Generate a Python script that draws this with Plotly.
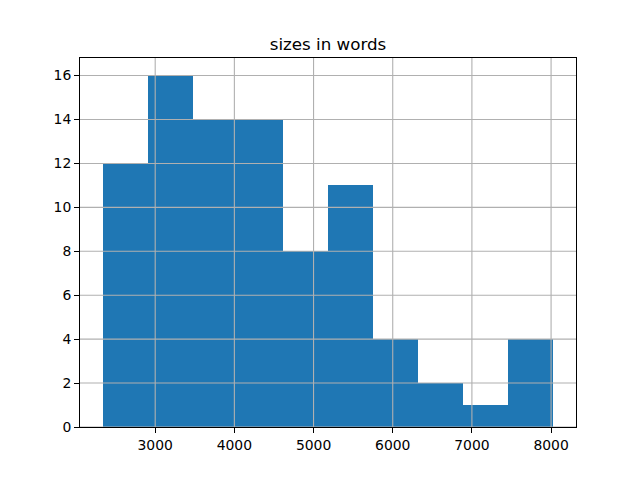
import plotly.graph_objects as go

# Histogram data
bin_start = 2335
bin_end = 8030
counts = [12, 16, 14, 14, 8, 11, 4, 2, 1, 4]
x_ticks = [3000, 4000, 5000, 6000, 7000, 8000]
y_ticks = [0, 2, 4, 6, 8, 10, 12, 14, 16]
title = "sizes in words"

n = len(counts)
w = (bin_end - bin_start) / n
edges = [bin_start + i * w for i in range(n + 1)]
centers = [(edges[i] + edges[i + 1]) / 2 for i in range(n)]

margin = 0.05 * (bin_end - bin_start)
xr = [bin_start - margin, bin_end + margin]
yr = [0, max(counts) * 1.05]

fig = go.Figure()
fig.add_trace(go.Bar(x=centers, y=counts, width=[w] * n,
                     marker=dict(color="#1f77b4", line=dict(width=0)),
                     showlegend=False))

shapes = []
for t in x_ticks:
    shapes.append(dict(type="line", xref="x", yref="paper", x0=t, x1=t, y0=0, y1=1,
                       line=dict(color="#b0b0b0", width=1.1), layer="above"))
for t in y_ticks:
    shapes.append(dict(type="line", xref="paper", yref="y", x0=0, x1=1, y0=t, y1=t,
                       line=dict(color="#b0b0b0", width=1.1), layer="above"))

# page body has an 8px margin, so offsets are compensated
fig.update_layout(
    width=640, height=480,
    margin=dict(l=72, r=72, t=49.6, b=60.8),
    paper_bgcolor="white", plot_bgcolor="white",
    font=dict(family="DejaVu Sans", size=13.9, color="black"),
    bargap=0,
    shapes=shapes,
    title=dict(text=title, x=0.5, xanchor="center", xref="paper",
               y=1 - 41.5 / 480, yanchor="bottom", yref="container",
               font=dict(size=16.7, family="DejaVu Sans")),
    xaxis=dict(range=xr, tickvals=x_ticks, ticktext=[str(t) for t in x_ticks],
               showgrid=False, zeroline=False, showline=True, linecolor="black",
               linewidth=1.1, mirror=True, ticks="outside", ticklen=4.9, tickwidth=1.1,
               tickcolor="black", layer="above traces"),
    yaxis=dict(range=yr, tickvals=y_ticks, ticktext=[str(t) for t in y_ticks],
               showgrid=False, zeroline=False, showline=True, linecolor="black",
               linewidth=1.1, mirror=True, ticks="outside", ticklen=4.9, tickwidth=1.1,
               tickcolor="black", layer="above traces"),
)

fig.write_html("out.html")
